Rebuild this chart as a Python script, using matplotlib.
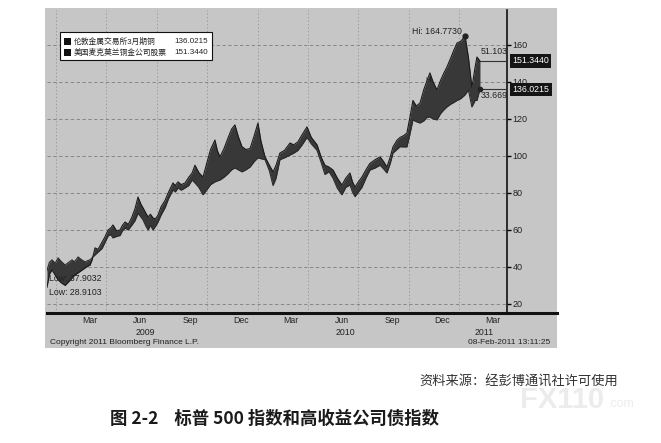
import numpy as np
import matplotlib
matplotlib.use("Agg")
import matplotlib.pyplot as plt
from matplotlib.patches import Rectangle
from matplotlib.lines import Line2D

plt.rcParams['font.family'] = ['Liberation Sans', 'Noto Sans CJK SC', 'DejaVu Sans']

# months since 1 Jan 2009
months = [-0.54, -0.40, -0.24, -0.05, 0.12, 0.30, 0.54, 0.75, 0.95, 1.10, 1.31, 1.50, 1.73, 1.90,
          2.02, 2.15, 2.32, 2.50, 2.74, 2.90, 3.10, 3.25, 3.39, 3.60, 3.81, 3.95, 4.11, 4.30,
          4.52, 4.70, 4.88, 5.05, 5.18, 5.35, 5.48, 5.62, 5.77, 5.92, 6.07, 6.25, 6.49, 6.70,
          6.96, 7.10, 7.26, 7.45, 7.68, 7.90, 8.10, 8.27, 8.50, 8.75, 9.00, 9.20, 9.46, 9.60,
          9.76, 10.0, 10.25, 10.45, 10.65, 10.85, 11.07, 11.30, 11.55, 11.80, 12.02, 12.20,
          12.44, 12.70, 12.92, 13.10, 13.33, 13.60, 13.93, 14.15, 14.40, 14.65, 14.94, 15.20,
          15.54, 15.80, 16.01, 16.25, 16.49, 16.75, 17.02, 17.25, 17.50, 17.65, 17.80, 18.00,
          18.21, 18.45, 18.69, 19.00, 19.29, 19.50, 19.70, 19.90, 20.06, 20.30, 20.48, 20.70,
          20.89, 21.05, 21.25, 21.45, 21.67, 21.90, 22.10, 22.26, 22.45, 22.68, 22.90, 23.10,
          23.27, 23.50, 23.70, 23.87, 24.10, 24.35, 24.55, 24.76, 24.95, 25.06, 25.24]

copper = [38.0, 42.5, 43.8, 42.0, 44.9, 43.0, 41.0, 42.5, 43.8, 42.8, 45.4, 44.0, 42.7, 43.5,
          43.8, 45.0, 46.5, 48.0, 50.0, 53.0, 56.8, 57.5, 55.7, 56.5, 57.0, 59.5, 61.0, 60.0,
          62.7, 65.0, 69.0, 67.0, 65.4, 62.0, 60.0, 62.5, 60.0, 62.0, 64.3, 68.0, 72.0, 77.0,
          81.6, 80.5, 82.7, 81.5, 82.7, 84.0, 87.0, 85.4, 83.0, 79.0, 82.0, 84.5, 86.0, 86.5,
          87.0, 88.5, 90.5, 92.5, 93.5, 92.5, 91.4, 92.5, 94.0, 97.0, 99.0, 98.5,
          98.0, 92.0, 84.0, 88.0, 98.0, 99.0, 100.5, 101.5, 103.0, 106.0, 110.0, 106.5,
          103.0, 96.0, 90.0, 91.5, 88.0, 82.5, 79.0, 83.0, 84.3, 80.5, 78.0, 80.5,
          83.0, 88.0, 92.4, 93.5, 95.0, 93.0, 90.8, 96.0, 101.6, 103.5, 105.0, 104.9,
          104.9, 111.0, 119.5, 118.5, 117.8, 119.0, 121.0, 121.0, 120.0, 119.5, 123.0, 125.0,
          126.5, 128.0, 129.0, 130.0, 131.0, 133.0, 135.7, 126.5, 130.0, 130.0, 136.0215]

fcx = [29.0, 36.0, 38.4, 35.5, 33.0, 31.5, 30.0, 32.0, 34.0, 35.5, 36.8, 38.0, 39.5, 40.5,
       41.0, 44.0, 50.3, 49.5, 53.5, 56.0, 60.0, 61.0, 62.7, 59.5, 60.0, 62.5, 64.3, 63.0,
       67.0, 71.5, 77.8, 74.0, 71.9, 69.0, 67.0, 68.5, 66.5, 66.0, 68.0, 72.5, 76.0, 80.5,
       85.4, 84.0, 86.0, 84.5, 85.4, 88.5, 90.8, 95.0, 91.0, 88.6, 97.0, 103.5, 108.6, 103.0,
       99.5, 104.0, 110.0, 114.5, 116.8, 110.5, 105.0, 103.5, 104.0, 111.0, 117.8, 108.0,
       99.5, 95.0, 91.4, 95.0, 101.6, 103.0, 107.0, 106.0, 107.6, 111.5, 115.7, 110.0,
       106.0, 99.0, 95.0, 94.0, 92.4, 88.0, 84.3, 88.0, 90.8, 86.0, 83.2, 86.0,
       88.6, 92.5, 96.0, 98.0, 99.5, 97.0, 94.0, 99.5, 104.9, 108.5, 110.0, 111.0,
       112.4, 120.0, 130.0, 127.0, 128.6, 136.0, 141.0, 144.9, 140.0, 135.7, 141.0, 145.0,
       148.0, 153.0, 157.5, 161.0, 162.0, 164.773, 153.5, 137.0, 148.0, 153.5, 151.344]

series_names = ['伦敦金属交易所3月期铜', '美国麦克莫兰铜金公司股票']
last_values = ['136.0215', '151.3440']
low_values = [37.9032, 28.9103]
tick_pos = [2, 5, 8, 11, 14, 17, 20, 23, 26]
tick_labels = ['Mar', 'Jun', 'Sep', 'Dec', 'Mar', 'Jun', 'Sep', 'Dec', 'Mar']
year_pos = [5.3, 17.2, 25.5]
year_labels = ['2009', '2010', '2011']
grid_months = [0, 3, 6, 9, 12, 15, 18, 21, 24]
y_ticks = [20, 40, 60, 80, 100, 120, 140, 160]

W, H = 661, 443
fig = plt.figure(figsize=(W / 100, H / 100), dpi=100)


def fx(px):
    return px / W


def fy(py):
    return 1 - py / H


# gray chart panel
fig.add_artist(Rectangle((fx(45), fy(348)), fx(557) - fx(45), fy(8) - fy(348),
                         facecolor='#c6c6c6', edgecolor='none', zorder=0))

ax = fig.add_axes([fx(47), fy(313), fx(507) - fx(47), fy(10) - fy(313)])
ax.set_facecolor('none')
ax.set_xlim(-0.54, 26.85)
ax.set_ylim(15.1, 178.9)

for v in y_ticks:
    ax.axhline(v, color='#7c7c7c', lw=0.6, ls=(0, (4, 3)), zorder=1)
for m in grid_months:
    ax.axvline(m, color='#8c8c8c', lw=0.5, ls=(0, (2, 3)), zorder=1)

ax.fill_between(months, copper, fcx, color='#383838', lw=0, zorder=2)
ax.plot(months, copper, color='#2a2a2a', lw=0.8, zorder=3)
ax.plot(months, fcx, color='#1a1a1a', lw=0.8, zorder=3)

# high / low annotations
i_hi = int(np.argmax(fcx))
ax.plot(months[i_hi], fcx[i_hi], 'o', color='#222222', ms=3.5, zorder=4)
ax.text(21.2, 167.5, 'Hi: %.4f' % fcx[i_hi], fontsize=6.3, color='#222222', va='center')
ax.text(22.0, 141, 'Hi', fontsize=5, color='#222222', va='center')
ax.text(-0.45, 34.0, 'Low: %.4f' % low_values[0], fontsize=6.3, color='#222222', va='center')
ax.text(-0.45, 26.0, 'Low: %.4f' % low_values[1], fontsize=6.3, color='#222222', va='center')

# last value lines and boxes
for val, txt, dy in [(fcx[-1], '51.103', 5.0), (copper[-1], '33.669', -3.5)]:
    ax.plot([months[-1], 26.85], [val, val], color='#333333', lw=0.8, zorder=3)
    ax.text(months[-1] + 0.05, val + dy, txt, fontsize=6.3, color='#222222', va='center')
ax.plot(months[-1], copper[-1], 'o', color='#222222', ms=3, zorder=4)
for val, txt in [(fcx[-1], last_values[1]), (copper[-1], last_values[0])]:
    ax.annotate(txt, xy=(1.0, val), xycoords=('axes fraction', 'data'),
                xytext=(4, 0), textcoords='offset points', fontsize=6.3, color='white',
                va='center', ha='left', zorder=6,
                bbox=dict(boxstyle='square,pad=0.25', fc='#151515', ec='none'),
                annotation_clip=False)

# axes styling
for s in ['left', 'top']:
    ax.spines[s].set_visible(False)
ax.spines['right'].set_color('#111111')
ax.spines['right'].set_linewidth(1.2)
ax.spines['bottom'].set_color('#111111')
ax.spines['bottom'].set_linewidth(2.2)
ax.yaxis.tick_right()
ax.set_yticks(y_ticks)
ax.set_yticklabels([str(v) for v in y_ticks], fontsize=6.5, color='#222222')
ax.tick_params(axis='y', direction='out', length=3, width=1, pad=1)
ax.set_xticks(tick_pos)
ax.set_xticklabels(tick_labels, fontsize=6.3, color='#222222')
ax.tick_params(axis='x', length=0, pad=2)
for p, lab in zip(year_pos, year_labels):
    ax.annotate(lab, xy=(p, 0), xycoords=('data', 'axes fraction'),
                xytext=(0, -10.5), textcoords='offset points', fontsize=6.3,
                color='#222222', ha='center', va='top', annotation_clip=False)

fig.add_artist(Line2D([fx(507), fx(557)], [fy(313), fy(313)], color='#111111', lw=2.2))

# legend box
fig.add_artist(Rectangle((fx(60), fy(60)), fx(212) - fx(60), fy(32) - fy(60),
                         facecolor='white', edgecolor='#111111', lw=0.8, zorder=5))
for row, (name, val) in enumerate(zip(series_names, last_values)):
    yy = 41.5 + row * 11
    fig.add_artist(Rectangle((fx(63.5), fy(yy + 3.2)), fx(7), fy(0) - fy(6.4),
                             facecolor='#111111', edgecolor='none', zorder=6))
    fig.text(fx(74), fy(yy), name, fontsize=5.6, color='#222222', va='center', zorder=6)
    fig.text(fx(208), fy(yy), val, fontsize=5.8, color='#222222', va='center', ha='right',
             zorder=6)

fig.text(fx(50), fy(342), 'Copyright 2011 Bloomberg Finance L.P.', fontsize=6.0,
         color='#222222', va='center')
fig.text(fx(550), fy(342), '08-Feb-2011 13:11:25', fontsize=6.0, color='#222222',
         va='center', ha='right')

# watermark and captions
fig.text(fx(562), fy(400), 'FX110', fontsize=21, fontweight='bold', color='#ececec',
         va='center', ha='center', zorder=0)
fig.text(fx(608), fy(404), '.com', fontsize=9, color='#ececec', va='center', ha='left',
         zorder=0)
fig.text(fx(618), fy(381), '资料来源：经彭博通讯社许可使用', fontsize=9.5, color='#333333',
         va='center', ha='right', family=['Noto Sans CJK SC'])
fig.text(fx(110), fy(419), '图 2-2    标普 500 指数和高收益公司债指数', fontsize=12.5,
         fontweight='bold', color='#1a1a1a', va='center', ha='left',
         family=['Noto Sans CJK SC'])

fig.savefig('out.png', dpi=100)
